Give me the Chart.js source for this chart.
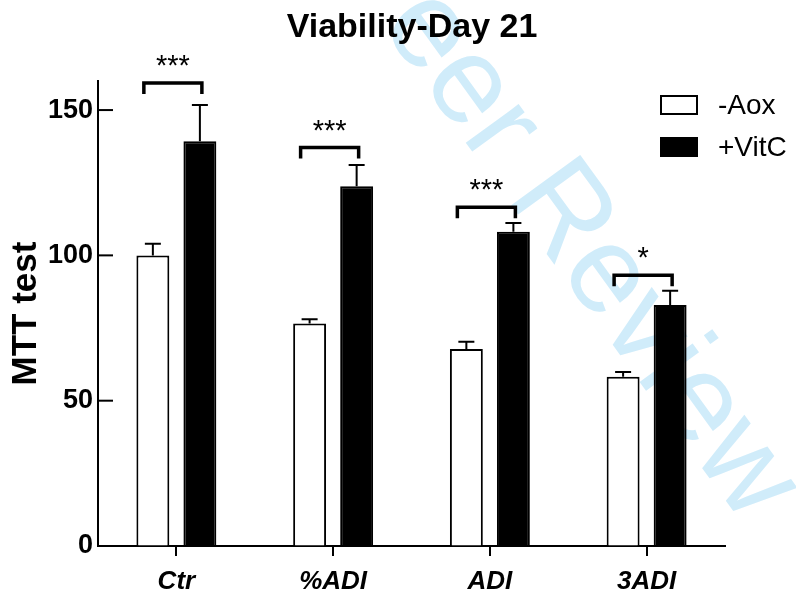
<!DOCTYPE html>
<html>
<head>
<meta charset="utf-8">
<script src="https://cdn.jsdelivr.net/npm/chart.js@4.4.0/dist/chart.umd.min.js"></script>
<style>
  body { margin: 0; background: #fff; }
</style>
</head>
<body>
<canvas id="mttChart" width="796" height="596"></canvas>
<script>
const categories = ['Ctr', '%ADI', 'ADI', '3ADI'];
const aoxValues = [100, 76.6, 67.8, 58.2];
const aoxErrors = [4.0, 1.4, 2.5, 1.7];
const vitcValues = [139.3, 123.8, 108.1, 82.9];
const vitcErrors = [12.4, 7.3, 3.0, 4.9];
const sigMarks = ['***', '***', '***', '*'];
const sigLevels = [159.3, 137.1, 116.6, 93.2];
const yTicks = [0, 50, 100, 150];
const chartTitle = 'Viability-Day 21';

const errorSets = [aoxErrors, vitcErrors];
const sans = '"Liberation Sans", Arial, sans-serif';
Chart.defaults.font.family = sans;

// faint diagonal "For Peer Review" stamp behind everything
const watermark = {
    id: 'watermark',
    beforeDraw(chart) {
        const ctx = chart.ctx;
        const size = 124;
        ctx.save();
        ctx.font = size + 'px ' + sans;
        ctx.fillStyle = '#d0ecfa';
        ctx.translate(426, 33);
        ctx.rotate(54 * Math.PI / 180);
        const lead = ctx.measureText('For P').width + ctx.measureText('e').width / 2;
        ctx.fillText('For Peer Review', -lead, size * 0.26);
        ctx.restore();
    }
};

// title sits a bit right of the canvas centre, so draw it by hand
const plotTitle = {
    id: 'plotTitle',
    afterDraw(chart) {
        const ctx = chart.ctx;
        ctx.save();
        ctx.font = 'bold 34px ' + sans;
        ctx.fillStyle = '#000';
        ctx.textAlign = 'center';
        ctx.fillText(chartTitle, 412, 37);
        ctx.restore();
    }
};

const errorBars = {
    id: 'errorBars',
    afterDatasetsDraw(chart) {
        const ctx = chart.ctx, y = chart.scales.y;
        ctx.save();
        ctx.strokeStyle = '#000';
        ctx.lineWidth = 2;
        chart.data.datasets.forEach((ds, i) => {
            chart.getDatasetMeta(i).data.forEach((bar, j) => {
                const top = y.getPixelForValue(ds.data[j] + errorSets[i][j]);
                ctx.beginPath();
                ctx.moveTo(bar.x, bar.y);
                ctx.lineTo(bar.x, top);
                ctx.moveTo(bar.x - 8, top);
                ctx.lineTo(bar.x + 8, top);
                ctx.stroke();
            });
        });
        ctx.restore();
    }
};

const significance = {
    id: 'significance',
    afterDatasetsDraw(chart) {
        const ctx = chart.ctx, y = chart.scales.y;
        const left = chart.getDatasetMeta(0).data, right = chart.getDatasetMeta(1).data;
        ctx.save();
        ctx.strokeStyle = '#000';
        ctx.fillStyle = '#000';
        ctx.lineWidth = 3.5;
        ctx.font = '29px ' + sans;
        ctx.textAlign = 'center';
        sigMarks.forEach((mark, j) => {
            const x0 = left[j].x - 9, x1 = right[j].x + 2;
            const py = y.getPixelForValue(sigLevels[j]);
            ctx.beginPath();
            ctx.moveTo(x0, py + 11);
            ctx.lineTo(x0, py);
            ctx.lineTo(x1, py);
            ctx.lineTo(x1, py + 11);
            ctx.stroke();
            ctx.fillText(mark, (x0 + x1) / 2, py - 8);
        });
        ctx.restore();
    }
};

// y ticks point into the plot
const innerTicks = {
    id: 'innerTicks',
    afterDraw(chart) {
        const ctx = chart.ctx, y = chart.scales.y, left = chart.chartArea.left;
        ctx.save();
        ctx.strokeStyle = '#000';
        ctx.lineWidth = 2;
        y.ticks.forEach(t => {
            const py = y.getPixelForValue(t.value);
            ctx.beginPath();
            ctx.moveTo(left, py);
            ctx.lineTo(left + 15, py);
            ctx.stroke();
        });
        ctx.restore();
    }
};

const boxLegend = {
    id: 'boxLegend',
    afterDraw(chart) {
        const ctx = chart.ctx;
        ctx.save();
        ctx.font = '28px ' + sans;
        ctx.textBaseline = 'middle';
        chart.data.datasets.forEach((ds, i) => {
            const top = 95 + i * 42;
            ctx.fillStyle = ds.backgroundColor;
            ctx.fillRect(660, top, 38, 20);
            ctx.lineWidth = 2;
            ctx.strokeStyle = '#000';
            ctx.strokeRect(661, top + 1, 36, 18);
            ctx.fillStyle = '#000';
            ctx.fillText(ds.label, 718, top + 11);
        });
        ctx.restore();
    }
};

new Chart(document.getElementById('mttChart'), {
    type: 'bar',
    data: {
        labels: categories,
        datasets: [
            { label: '-Aox', data: aoxValues, backgroundColor: '#fff', borderColor: '#000', borderWidth: 2 },
            { label: '+VitC', data: vitcValues, backgroundColor: '#000', borderColor: '#000', borderWidth: 2 }
        ]
    },
    options: {
        responsive: false,
        animation: false,
        devicePixelRatio: 1,
        categoryPercentage: 0.6,
        barPercentage: 0.7,
        layout: { padding: { left: 0, right: 71, top: 81, bottom: 0 } },
        plugins: {
            legend: { display: false },
            tooltip: { enabled: false },
            title: { display: false }
        },
        scales: {
            x: {
                grid: { drawOnChartArea: false, offset: false, tickLength: 10, color: '#000', lineWidth: 2 },
                border: { color: '#000', width: 2 },
                ticks: { color: '#000', padding: 10, font: { size: 26, weight: 'bold', style: 'italic' } },
                afterFit(s) { s.height = 50; }
            },
            y: {
                min: 0,
                max: 160,
                afterBuildTicks(s) { s.ticks = yTicks.map(v => ({ value: v })); },
                grid: { drawOnChartArea: false, drawTicks: false },
                border: { color: '#000', width: 2 },
                ticks: {
                    color: '#000',
                    padding: 5,
                    font: { size: 27, weight: 'bold' }
                },
                title: {
                    display: true,
                    text: 'MTT test',
                    color: '#000',
                    font: { size: 35, weight: 'bold' },
                    padding: { top: 5, bottom: 0 }
                },
                afterFit(s) { s.width = 98; }
            }
        }
    },
    plugins: [watermark, errorBars, significance, innerTicks, boxLegend, plotTitle]
});
</script>
</body>
</html>
